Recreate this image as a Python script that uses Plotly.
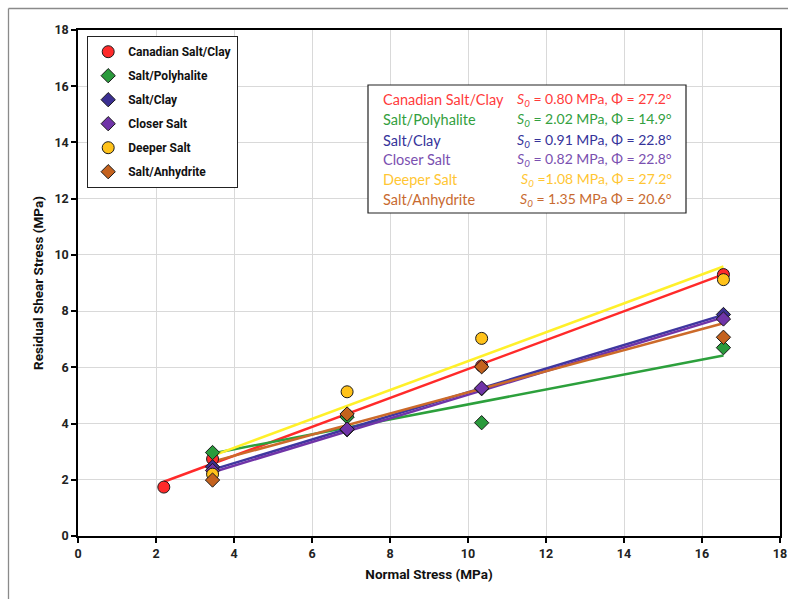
import numpy as np
import plotly.graph_objects as go

series_names = ["Canadian Salt/Clay", "Salt/Polyhalite", "Salt/Clay", "Closer Salt", "Deeper Salt", "Salt/Anhydrite"]
normal_stress = {
    "Canadian Salt/Clay": [2.2, 3.45, 6.9, 10.35, 16.55],
    "Salt/Polyhalite": [3.45, 6.9, 10.35, 16.55],
    "Salt/Clay": [3.45, 6.9, 10.35, 16.55],
    "Closer Salt": [3.45, 6.9, 10.35, 16.55],
    "Deeper Salt": [3.45, 6.9, 10.35, 16.55],
    "Salt/Anhydrite": [3.45, 6.9, 10.35, 16.55],
}
shear_stress = {
    "Canadian Salt/Clay": [1.74, 2.74, 4.3, 6.05, 9.3],
    "Salt/Polyhalite": [2.97, 4.23, 4.03, 6.7],
    "Salt/Clay": [2.46, 3.78, 5.24, 7.88],
    "Closer Salt": [2.33, 3.8, 5.26, 7.72],
    "Deeper Salt": [2.2, 5.13, 7.03, 9.12],
    "Salt/Anhydrite": [1.99, 4.34, 6.02, 7.07],
}
# Fit parameters (cohesion S0 in MPa, friction angle in degrees)
s0 = [0.80, 2.02, 0.91, 0.82, 1.08, 1.35]
phi = [27.2, 14.9, 22.8, 22.8, 27.2, 20.6]
fit_labels = [
    "<i>S<sub>0</sub></i> = 0.80 MPa, Φ = 27.2°",
    "<i>S<sub>0</sub></i> = 2.02 MPa, Φ = 14.9°",
    "<i>S<sub>0</sub></i> = 0.91 MPa, Φ = 22.8°",
    "<i>S<sub>0</sub></i> = 0.82 MPa, Φ = 22.8°",
    "<i>S<sub>0</sub></i> =1.08 MPa, Φ = 27.2°",
    "<i>S<sub>0</sub></i> = 1.35 MPa Φ = 20.6°",
]
x_ticks = [0, 2, 4, 6, 8, 10, 12, 14, 16, 18]
y_ticks = [0, 2, 4, 6, 8, 10, 12, 14, 16, 18]

marker_colors = ["#FF2A2A", "#2A9A3C", "#3B2F92", "#7034A8", "#FFC21A", "#C4621E"]
line_colors = ["#FF2A2A", "#2CA03C", "#3F37A0", "#7034A8", "#FFF02A", "#CC6A2A"]
text_colors = ["#FF3B3B", "#33A040", "#35339A", "#7A50B0", "#FFC633", "#C86A30"]
symbols = ["circle", "diamond", "diamond", "diamond", "circle", "diamond"]
sizes = [12, 11, 11, 11, 12, 11]

BOLD_FONT = "Roboto, Open Sans, sans-serif"
TEXT_FONT = "Lato, Open Sans, sans-serif"

fig = go.Figure()

# trend lines
for i, name in enumerate(series_names):
    xs = normal_stress[name]
    xl = np.array([min(xs), max(xs)])
    yl = s0[i] + np.tan(np.radians(phi[i])) * xl
    fig.add_trace(go.Scatter(x=xl, y=yl, mode="lines", showlegend=False,
                             line=dict(color=line_colors[i], width=2.5), hoverinfo="skip"))

# markers
for i, name in enumerate(series_names):
    fig.add_trace(go.Scatter(
        x=normal_stress[name], y=shear_stress[name], mode="markers", name="<b>%s</b>" % name,
        legendgroup=name,
        marker=dict(symbol=symbols[i], size=sizes[i], color=marker_colors[i],
                    line=dict(color="#1a1a1a", width=1)),
    ))

W, H = 788, 599
ml, mr, mt, mb = 78, 8, 30, 63
PX0, PX1, PY0, PY1 = ml, W - mr, mt, H - mb

def px(x):
    return (x - PX0) / (PX1 - PX0)

def py(y):
    return (PY1 - y) / (PY1 - PY0)

annotations = []
for i in range(6):
    yc = 100 + 20 * i
    annotations.append(dict(xref="paper", yref="paper", x=px(381), y=py(yc), xanchor="left", yanchor="middle",
                            text=series_names[i], showarrow=False,
                            font=dict(family=TEXT_FONT, size=14.5, color=text_colors[i])))
    annotations.append(dict(xref="paper", yref="paper", x=px(674), y=py(yc), xanchor="right", yanchor="middle",
                            text=fit_labels[i], showarrow=False,
                            font=dict(family=TEXT_FONT, size=14, color=text_colors[i])))

shapes = [
    dict(type="rect", xref="paper", yref="paper", x0=px(368), x1=px(686), y0=py(213), y1=py(85),
         line=dict(color="#222222", width=1.2), fillcolor="white", layer="above"),
    # outer chart frame (only left and top edges are inside the picture)
    dict(type="line", xref="paper", yref="paper", x0=px(8.5), x1=px(8.5), y0=py(599), y1=py(8.5),
         line=dict(color="#8a8a8a", width=1.3), layer="below"),
    dict(type="line", xref="paper", yref="paper", x0=px(8.5), x1=px(788), y0=py(8.5), y1=py(8.5),
         line=dict(color="#8a8a8a", width=1.3), layer="below"),
]

axis_common = dict(range=[0, 18], showgrid=True, gridcolor="#D9D9D9", gridwidth=1,
                   showline=True, linecolor="black", linewidth=1.5, mirror=True,
                   ticks="outside", ticklen=5, tickcolor="black", tickwidth=1.5,
                   zeroline=False, automargin=False, ticklabeloverflow="allow",
                   tickfont=dict(family=BOLD_FONT, size=12.5, color="#222222"))

fig.update_layout(
    width=W, height=H,
    margin=dict(l=ml, r=mr, t=mt, b=mb),
    paper_bgcolor="white", plot_bgcolor="white",
    xaxis=dict(**axis_common, tickvals=x_ticks, ticktext=["<b>%d</b>" % v for v in x_ticks],
               title=dict(text="<b>Normal Stress (MPa)</b>", standoff=10,
                          font=dict(family=BOLD_FONT, size=13.5, color="#111111"))),
    yaxis=dict(**axis_common, tickvals=y_ticks, ticktext=["<b>%d</b>" % v for v in y_ticks],
               title=dict(text="<b>Residual Shear Stress (MPa)</b>", standoff=8,
                          font=dict(family=BOLD_FONT, size=13.5, color="#111111"))),
    legend=dict(x=px(87), y=py(36), xanchor="left", yanchor="top",
                bgcolor="white", bordercolor="#222222", borderwidth=1.2,
                font=dict(family=BOLD_FONT, size=12, color="#111111"),
                traceorder="grouped", tracegroupgap=5, itemwidth=30),
    annotations=annotations,
    shapes=shapes,
    showlegend=True,
)

fig.write_html("out.html")
